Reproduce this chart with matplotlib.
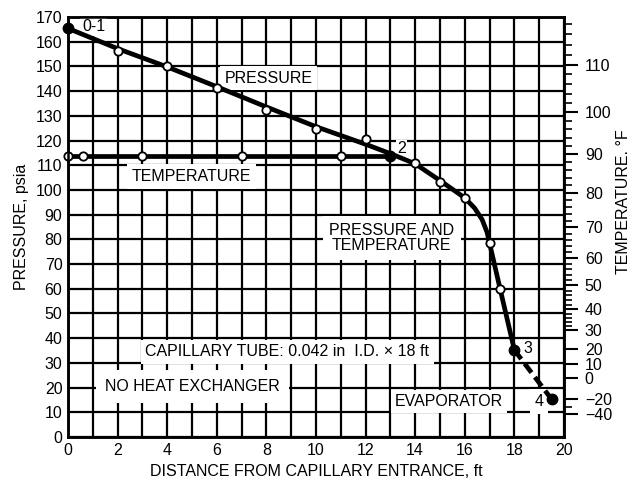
import numpy as np
import matplotlib
matplotlib.use("Agg")
from matplotlib import pyplot as plt

plt.rcParams['font.family'] = ['Liberation Sans', 'DejaVu Sans']

# pressure curve (smooth line through the readings), ft / psia
dist_line = [0, 2, 4, 6, 8, 10, 12, 13, 14, 15, 16, 16.4, 16.7, 16.9, 17, 17.4, 18]
pres_line = [165.4, 157.2, 149.8, 141.8, 133.6, 125.6, 118.5, 114.7, 110.6,
             103.8, 96.8, 92.6, 88.0, 82.8, 78.4, 61.0, 35.2]

# open circles on the pressure curve
dist_p_pts = [2, 4, 6, 8, 10, 12, 14, 15, 16, 17, 17.4]
pres_p_pts = [156.4, 150.0, 141.2, 132.4, 124.6, 120.5, 110.8, 103.4, 96.9, 78.4, 60.0]

# temperature line (plotted on pressure scale) and its open circles
dist_temp_line = [0, 13]
pres_temp_line = [113.8, 113.8]
dist_t_pts = [0, 0.6, 3, 7, 11]
pres_t_pts = [113.8, 113.8, 113.8, 113.8, 113.8]

# state points 0-1, 2, 3, 4
dist_states = [0, 13, 18, 19.5]
pres_states = [165.4, 113.8, 35.2, 15.3]

# evaporator (dashed)
dist_evap = [18, 19.5]
pres_evap = [35.2, 15.3]

# right axis: temperature, placed at the matching pressure
temp_major = [110, 100, 90, 80, 70, 60, 50, 40, 30, 20, 10, 0, -20, -40]
temp_major_p = [150.7, 131.6, 114.5, 98.8, 84.9, 72.4, 61.4, 51.7, 43.2,
                35.7, 29.4, 23.8, 15.3, 9.3]
temp_minor_p = [44.8, 46.4, 48.1, 49.9, 53.5, 55.4, 57.3, 59.2, 63.5, 65.7, 68.0,
                70.2, 74.8, 77.3, 79.7, 82.3, 87.5, 90.2, 93.0, 95.8, 101.8,
                104.8, 108.0, 111.2, 117.8, 121.2, 124.7, 128.1, 135.3, 139.0,
                142.9, 146.8, 154.7, 158.8, 163.0, 167.2, 12.0]

FS = 11.5

fig = plt.figure(figsize=(6.39, 4.82), dpi=100)
ax = fig.add_axes([0.1064, 0.0934, 0.7762, 0.8713])

ax.set_xlim(0, 20)
ax.set_ylim(0, 170)
ax.set_xticks(np.arange(0, 21, 2))
ax.set_xticks(np.arange(0, 21, 1), minor=True)
ax.set_yticks(np.arange(0, 171, 10))
ax.grid(which='both', color='black', lw=1.6, zorder=1)
ax.set_axisbelow(True)
ax.tick_params(which='both', length=0, labelsize=FS, pad=4)
for s in ax.spines.values():
    s.set_linewidth(1.8)

ax.set_xlabel('DISTANCE FROM CAPILLARY ENTRANCE, ft', fontsize=FS, labelpad=5)
ax.set_ylabel('PRESSURE, psia', fontsize=FS, labelpad=5)

# curves
ax.plot(dist_line, pres_line, color='black', lw=3.4, zorder=4,
        solid_capstyle='round', solid_joinstyle='round')
ax.plot(dist_temp_line, pres_temp_line, color='black', lw=3.4, zorder=4)
ax.plot(dist_evap, pres_evap, color='black', lw=3.4, zorder=4,
        dashes=(2.4, 1.2))
ax.plot(dist_p_pts, pres_p_pts, 'o', ms=6, mfc='white', mec='black', mew=1.3,
        zorder=5, clip_on=False)
ax.plot(dist_t_pts, pres_t_pts, 'o', ms=6, mfc='white', mec='black', mew=1.3,
        zorder=5, clip_on=False)
ax.plot(dist_states, pres_states, 'o', ms=7.5, color='black', zorder=5,
        clip_on=False)

# labels with white backing
def label(x, y, s, pad=0.3, **kw):
    ax.text(x, y, s, ha='center', va='center', fontsize=FS, zorder=3,
            bbox=dict(facecolor='white', edgecolor='none', pad=pad * FS),
            **kw)

label(1.03, 166.2, '0-1', pad=0.12)
label(8.08, 145.3, 'PRESSURE')
label(4.99, 105.4, 'TEMPERATURE')
label(13.05, 80.5, 'PRESSURE AND\nTEMPERATURE', pad=0.4, linespacing=1.05)
label(8.85, 34.4, 'CAPILLARY TUBE: 0.042 in  I.D. \u00d7 18 ft', pad=0.3)
label(5.02, 20.4, 'NO HEAT EXCHANGER', pad=0.55)
label(15.35, 14.3, 'EVAPORATOR', pad=0.25)
label(13.45, 116.8, '2', pad=0.05)
label(18.56, 36.0, '3', pad=0.05)
label(18.99, 14.3, '4', pad=0.3)

# temperature scale on the right
ax2 = ax.twinx()
ax2.set_ylim(0, 170)
ax2.set_yticks(temp_major_p)
ax2.set_yticklabels([str(t).replace('-', '\u2212') for t in temp_major])
ax2.set_yticks(temp_minor_p, minor=True)
ax2.tick_params(axis='y', which='major', length=10, width=1.5, labelsize=FS,
                pad=5)
ax2.tick_params(axis='y', which='minor', length=6, width=1.2)
for s in ax2.spines.values():
    s.set_linewidth(1.8)
ax2.set_ylabel('TEMPERATURE. \u00b0F', fontsize=FS)
ax2.yaxis.set_label_coords(1.105, 0.56)

fig.savefig('out.png', dpi=100)
